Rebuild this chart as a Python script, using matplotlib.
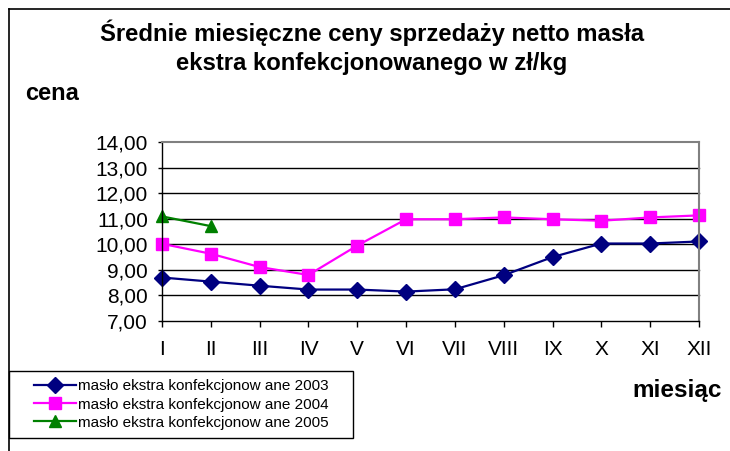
import matplotlib
matplotlib.use("Agg")
import matplotlib.pyplot as plt
from matplotlib.lines import Line2D
from matplotlib.patches import Rectangle

plt.rcParams['font.family'] = ['Liberation Sans', 'DejaVu Sans']

# --- data ---
months = ["I", "II", "III", "IV", "V", "VI", "VII", "VIII", "IX", "X", "XI", "XII"]
ceny_2003 = [8.70, 8.54, 8.38, 8.23, 8.23, 8.15, 8.24, 8.79, 9.50, 10.03, 10.03, 10.11]
ceny_2004 = [10.02, 9.63, 9.11, 8.80, 9.95, 10.98, 10.98, 11.05, 10.98, 10.92, 11.05, 11.13]
ceny_2005 = [11.09, 10.71]
labels = ["masło ekstra konfekcjonow ane 2003",
          "masło ekstra konfekcjonow ane 2004",
          "masło ekstra konfekcjonow ane 2005"]
yticks = [7, 8, 9, 10, 11, 12, 13, 14]

W, H = 730, 451
fig = plt.figure(figsize=(W / 100, H / 100), dpi=100)

# outer chart frame (only left and top edges visible)
fig.add_artist(Line2D([9 / W, 9 / W], [0, 1 - 9 / H], color="black", lw=1.2))
fig.add_artist(Line2D([9 / W, 1], [1 - 9 / H, 1 - 9 / H], color="black", lw=1.2))

ax = fig.add_axes([162 / W, 1 - 321 / H, (699 - 162) / W, (321 - 142) / H])
x = list(range(len(months)))

ax.plot(x, ceny_2003, color="#000080", marker="D", ms=8, lw=1.6, label=labels[0])
ax.plot(x, ceny_2004, color="#FF00FF", marker="s", ms=9, lw=1.6, label=labels[1])
ax.plot(x[:len(ceny_2005)], ceny_2005, color="#008000", marker="^", ms=9, lw=1.6, label=labels[2])

ax.set_xlim(0, 11)
ax.set_ylim(7, 14)
ax.set_yticks(yticks)
ax.set_yticklabels([f"{v:.2f}".replace(".", ",") for v in yticks], fontsize=15)
ax.set_xticks(x)
ax.set_xticklabels(months, fontsize=15)
ax.tick_params(axis="x", direction="out", length=4, pad=10, width=1)
ax.tick_params(axis="y", direction="out", length=3, pad=7, width=1)

for v in yticks[1:-1]:
    ax.axhline(v, color="black", lw=1, zorder=0)
ax.spines["top"].set_color("#808080")
ax.spines["right"].set_color("#808080")
ax.spines["top"].set_linewidth(1.5)
ax.spines["right"].set_linewidth(1.5)
for c in ["left", "bottom"]:
    ax.spines[c].set_color("black")
    ax.spines[c].set_linewidth(1)
for l in ax.lines:
    l.set_clip_on(False)

fig.text(372 / W, 1 - 47 / H,
         "Średnie miesięczne ceny sprzedaży netto masła\nekstra konfekcjonowanego w zł/kg",
         ha="center", va="center", fontsize=17.2, fontweight="bold", linespacing=1.35)
fig.text(25 / W, 1 - 93 / H, "cena", ha="left", va="center", fontsize=17, fontweight="bold")
fig.text(722 / W, 1 - 390 / H, "miesiąc", ha="right", va="center", fontsize=17.5, fontweight="bold")

# legend box
fig.add_artist(Rectangle((9 / W, 1 - 438 / H), (353 - 9) / W, (438 - 371) / H,
                         transform=fig.transFigure, fill=False, edgecolor="black", lw=1))
leg = fig.legend(loc="center", bbox_to_anchor=(181 / W, 1 - 404.5 / H),
                 frameon=False, handlelength=2.75, handletextpad=0.15, labelspacing=0.28,
                 borderpad=0, borderaxespad=0, fontsize=11)

fig.savefig("out.png", dpi=100)
